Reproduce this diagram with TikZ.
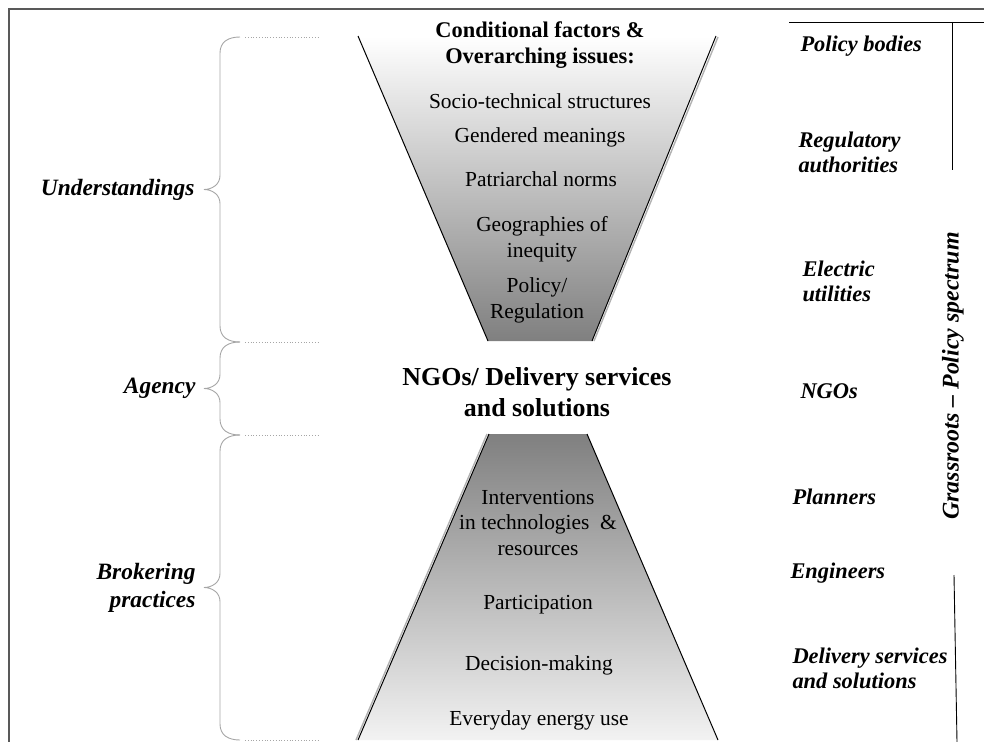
\documentclass[tikz,border=0pt]{standalone}
\usepackage{fontspec}
\setmainfont{Liberation Serif}
\usetikzlibrary{positioning,calc}

\definecolor{framegray}{gray}{0.35}
\definecolor{bracegray}{gray}{0.65}

\tikzset{
  level/.style={align=center, font=\fontsize{21.5}{26}\selectfont},
  head/.style={align=center, font=\fontsize{22.5}{26}\selectfont\bfseries},
  actor/.style={align=left, anchor=west, font=\fontsize{22.5}{25}\selectfont\bfseries\itshape},
  group/.style={align=right, anchor=east, font=\fontsize{23.5}{28}\selectfont\bfseries\itshape},
  curly/.style={draw=bracegray, line width=0.9bp},
  guide/.style={draw=bracegray, dotted, line width=0.8bp},
}

% left brace, tip named #1, running from y=#2 down to y=#3
\newcommand{\groupbrace}[3]{%
  \draw[curly] (240,#2) .. controls (228,#2) and (220,{#2+5}) .. (220,{#2+16})
    -- (220,{(#2+#3)/2-14}) .. controls (220,{(#2+#3)/2-5}) and (212,{(#2+#3)/2}) .. (204,{(#2+#3)/2})
    coordinate (#1)
    .. controls (212,{(#2+#3)/2}) and (220,{(#2+#3)/2+5}) .. (220,{(#2+#3)/2+14})
    -- (220,{#3-16}) .. controls (220,{#3-5}) and (228,#3) .. (240,#3);%
}

\begin{document}
\begin{tikzpicture}[x=1bp, y=-1bp]
          \useasboundingbox (0,0) rectangle (984,742);%
          \draw[framegray, line width=1.5bp] (9,742) -- (9,9) -- (984,9);%
          % funnels
          \shade[top color=white, bottom color=gray] (358,36) -- (716,36) -- (592,341) -- (488,341) -- cycle;%
          \draw[gray!60, line width=1.4bp] (718,37) -- (594,341);%
          \draw[line width=1bp] (358,36) -- (488,341);%
          \draw[line width=1bp] (716,36) -- (592,341);%
          \shade[top color=gray, bottom color=black!5] (489,434) -- (587,434) -- (718,740) -- (358,740) -- cycle;%
          \draw[gray!60, line width=1.4bp] (487,434) -- (356,740);%
          \draw[line width=1bp] (489,434) -- (358,740);%
          \draw[line width=1bp] (587,434) -- (718,740);%
          \node [head] (heading) at (540, 45) {Conditional factors \&\\Overarching issues:};%
          \node [level] (socio) at (540, 101) {Socio-technical structures};%
          \node [level] (gendered) at (540, 137) {Gendered meanings};%
          \node [level] (patriarchal) at (541, 179) {Patriarchal norms};%
          \node [level] (geographies) at (542, 239) {Geographies of\\inequity};%
          \node [level] (policy) at (537, 300) {Policy/\\Regulation};%
          \node [align=center, font=\fontsize{26}{31}\selectfont\bfseries] (ngo) at (537, 392) {NGOs/ Delivery services\\and solutions};%
          \node [level] (interventions) at (538, 523) {Interventions\\in technologies~~\&\\resources};%
          \node [level] (participation) at (538, 605) {Participation};%
          \node [level] (decision) at (539, 665) {Decision-making};%
          \node [level] (everyday) at (539, 720) {Everyday energy use};%
          % braces
          \groupbrace{utip}{37}{342}%
          \groupbrace{atip}{342}{435}%
          \groupbrace{btip}{435}{740}%
          \draw[guide] (245,37) -- (320,37);%
          \draw[guide] (245,342) -- (320,342);%
          \draw[guide] (245,435) -- (320,435);%
          \draw[guide] (245,740) -- (320,740);%
          \node [group, left=6bp of utip] (understandings) {Understandings};%
          \node [group, left=5bp of atip] (agency) {Agency};%
          \node [group, left=5bp of btip] (brokering) {Brokering\\practices};%
          % spectrum
          \draw[line width=0.9bp] (789,22) -- (984,22);%
          \draw[line width=0.9bp] (952,22) -- (952,170);%
          \draw[line width=0.9bp] (954,575) -- (957,742);%
          \node [actor] (bodies) at (797, 46) {Policy bodies};%
          \node [actor] (regulators) at (795, 152) {Regulatory\\authorities};%
          \node [actor] (utilities) at (799, 281) {Electric\\utilities};%
          \node [actor] (ngos) at (797, 391) {NGOs};%
          \node [actor] (planners) at (789, 497) {Planners};%
          \node [actor] (engineers) at (787, 573) {Engineers};%
          \node [actor] (delivery) at (789, 668) {Delivery services\\and solutions};%
          \node [rotate=90, font=\fontsize{24}{28}\selectfont\bfseries\itshape] (spectrum) at (953, 376) {Grassroots -- Policy spectrum};%
        \end{tikzpicture}
\end{document}
